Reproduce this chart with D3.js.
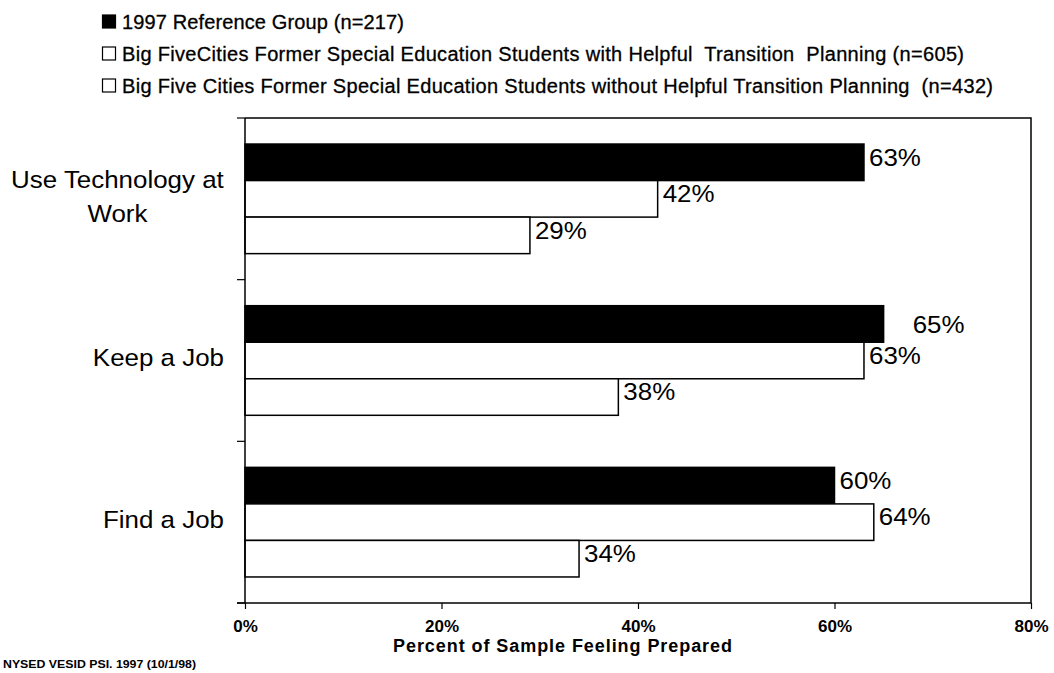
<!DOCTYPE html>
<html>
<head>
<meta charset="utf-8">
<script src="https://cdn.jsdelivr.net/npm/d3@7"></script>
<style>
  html, body { margin: 0; padding: 0; background: #fff; }
  svg { display: block; font-family: Arial, "Liberation Sans", sans-serif; }
</style>
</head>
<body>
<svg id="chart" width="1054" height="673"></svg>
<script>
// Survey categories (top to bottom) and each group's share feeling prepared
const categories = [["Use Technology at", "Work"], ["Keep a Job"], ["Find a Job"]];
const seriesNames = [
  "1997 Reference Group (n=217)",
  "Big FiveCities Former Special Education Students with Helpful  Transition  Planning (n=605)",
  "Big Five Cities Former Special Education Students without Helpful Transition Planning  (n=432)"
];
const referenceGroup = [63, 65, 60];
const withPlanning = [42, 63, 64];
const withoutPlanning = [29, 38, 34];
const tickValues = [0, 20, 40, 60, 80];
const axisTitle = "Percent of Sample Feeling Prepared";
const footnote = "NYSED VESID PSI. 1997 (10/1/98)";

const series = [referenceGroup, withPlanning, withoutPlanning];
const fills = ["#000", "#fff", "#fff"];

const svg = d3.select("#chart");
const plot = { left: 245, right: 1031, top: 118, bottom: 603 };
const wide = 1.08; // horizontal stretch of the chart lettering

const x = d3.scaleLinear().domain([0, 80]).range([plot.left, plot.right]);
const y = d3.scaleBand().domain(d3.range(categories.length))
  .range([plot.top, plot.bottom]).paddingInner(0).paddingOuter(0);
const barH = y.bandwidth() * 0.226;
const groupPad = (y.bandwidth() - barH * 3) / 2;

// Legend
const legend = svg.append("g");
const legendWidths = [282, 842, 871];
seriesNames.forEach((name, i) => {
  const base = 29 + i * 32;
  legend.append("rect")
    .attr("x", 102.5).attr("y", base - 14).attr("width", 13).attr("height", 13)
    .attr("fill", fills[i]).attr("stroke", "#000").attr("stroke-width", 1.2);
  legend.append("text")
    .attr("x", 122).attr("y", base)
    .attr("font-size", 20)
    .attr("stroke", "#000").attr("stroke-width", 0.3)
    .attr("textLength", legendWidths[i]).attr("lengthAdjust", "spacing")
    .style("white-space", "pre")
    .text(name);
});

// Plot frame (top and right edges)
svg.append("path")
  .attr("d", `M${plot.left},${plot.top}H${plot.right}V${plot.bottom}`)
  .attr("fill", "none").attr("stroke", "#000").attr("stroke-width", 1.5);

// Bars
const barsG = svg.append("g");
series.forEach((vals, s) => {
  barsG.selectAll(null).data(vals).enter().append("rect")
    .attr("x", x(0))
    .attr("y", (d, i) => y(i) + groupPad + s * barH)
    .attr("width", d => x(d) - x(0))
    .attr("height", barH)
    .attr("fill", fills[s])
    .attr("stroke", "#000").attr("stroke-width", 1.5);
});

// Value labels; one label sits further out from its bar
const labelNudge = { "1-0": [24, 6] };
const nudge = (i, s) => labelNudge[i + "-" + s] || [0, 0];
series.forEach((vals, s) => {
  barsG.selectAll(null).data(vals).enter().append("text")
    .attr("transform", (d, i) =>
      `translate(${x(d) + 5 + nudge(i, s)[0]},${y(i) + groupPad + s * barH + 21.5 + nudge(i, s)[1]}) scale(${wide},1)`)
    .attr("font-size", 24)
    .text(d => d + "%");
});

// Category axis
const yAxis = svg.append("g").attr("transform", `translate(${plot.left},0)`);
yAxis.append("line").attr("x1", 0).attr("x2", 0).attr("y1", plot.top).attr("y2", plot.bottom)
  .attr("stroke", "#000").attr("stroke-width", 1.5);
yAxis.selectAll("line.tick").data(d3.range(categories.length + 1)).enter().append("line")
  .attr("class", "tick")
  .attr("x1", -8).attr("x2", 0)
  .attr("y1", i => plot.top + i * y.step()).attr("y2", i => plot.top + i * y.step())
  .attr("stroke", "#000").attr("stroke-width", 1.2);

categories.forEach((lines, i) => {
  const cy = y(i) + y.bandwidth() / 2;
  const lh = 34;
  const g = svg.append("g");
  const t = g.append("text").attr("font-size", 24).attr("text-anchor", "middle");
  lines.forEach((ln, k) => {
    t.append("tspan").attr("x", 0).attr("y", cy + 6 + (k - (lines.length - 1) / 2) * lh).text(ln);
  });
  // right-align the (centred) label block against the axis
  const bb = t.node().getBBox();
  g.attr("transform", `translate(${224 - bb.width * wide / 2},0) scale(${wide},1)`);
});

// Value axis
const xAxis = svg.append("g").attr("transform", `translate(0,${plot.bottom})`)
  .call(d3.axisBottom(x).tickValues(tickValues).tickSize(6).tickPadding(11).tickFormat(d => d + "%"));
xAxis.select(".domain").attr("stroke-width", 1.5).attr("d", `M${plot.left - 8},0H${plot.right}`);
xAxis.selectAll(".tick line").attr("stroke-width", 1.2);
xAxis.selectAll(".tick text")
  .attr("font-family", "Arial, 'Liberation Sans', sans-serif")
  .attr("font-size", 17).attr("font-weight", "bold").attr("fill", "#000");

svg.append("text")
  .attr("x", 393).attr("y", 652)
  .attr("font-size", 18).attr("font-weight", "bold")
  .attr("textLength", 339).attr("lengthAdjust", "spacing")
  .text(axisTitle);

svg.append("text")
  .attr("x", 3).attr("y", 668)
  .attr("font-size", 10).attr("font-weight", "bold")
  .attr("textLength", 193).attr("lengthAdjust", "spacingAndGlyphs")
  .text(footnote);
</script>
</body>
</html>
